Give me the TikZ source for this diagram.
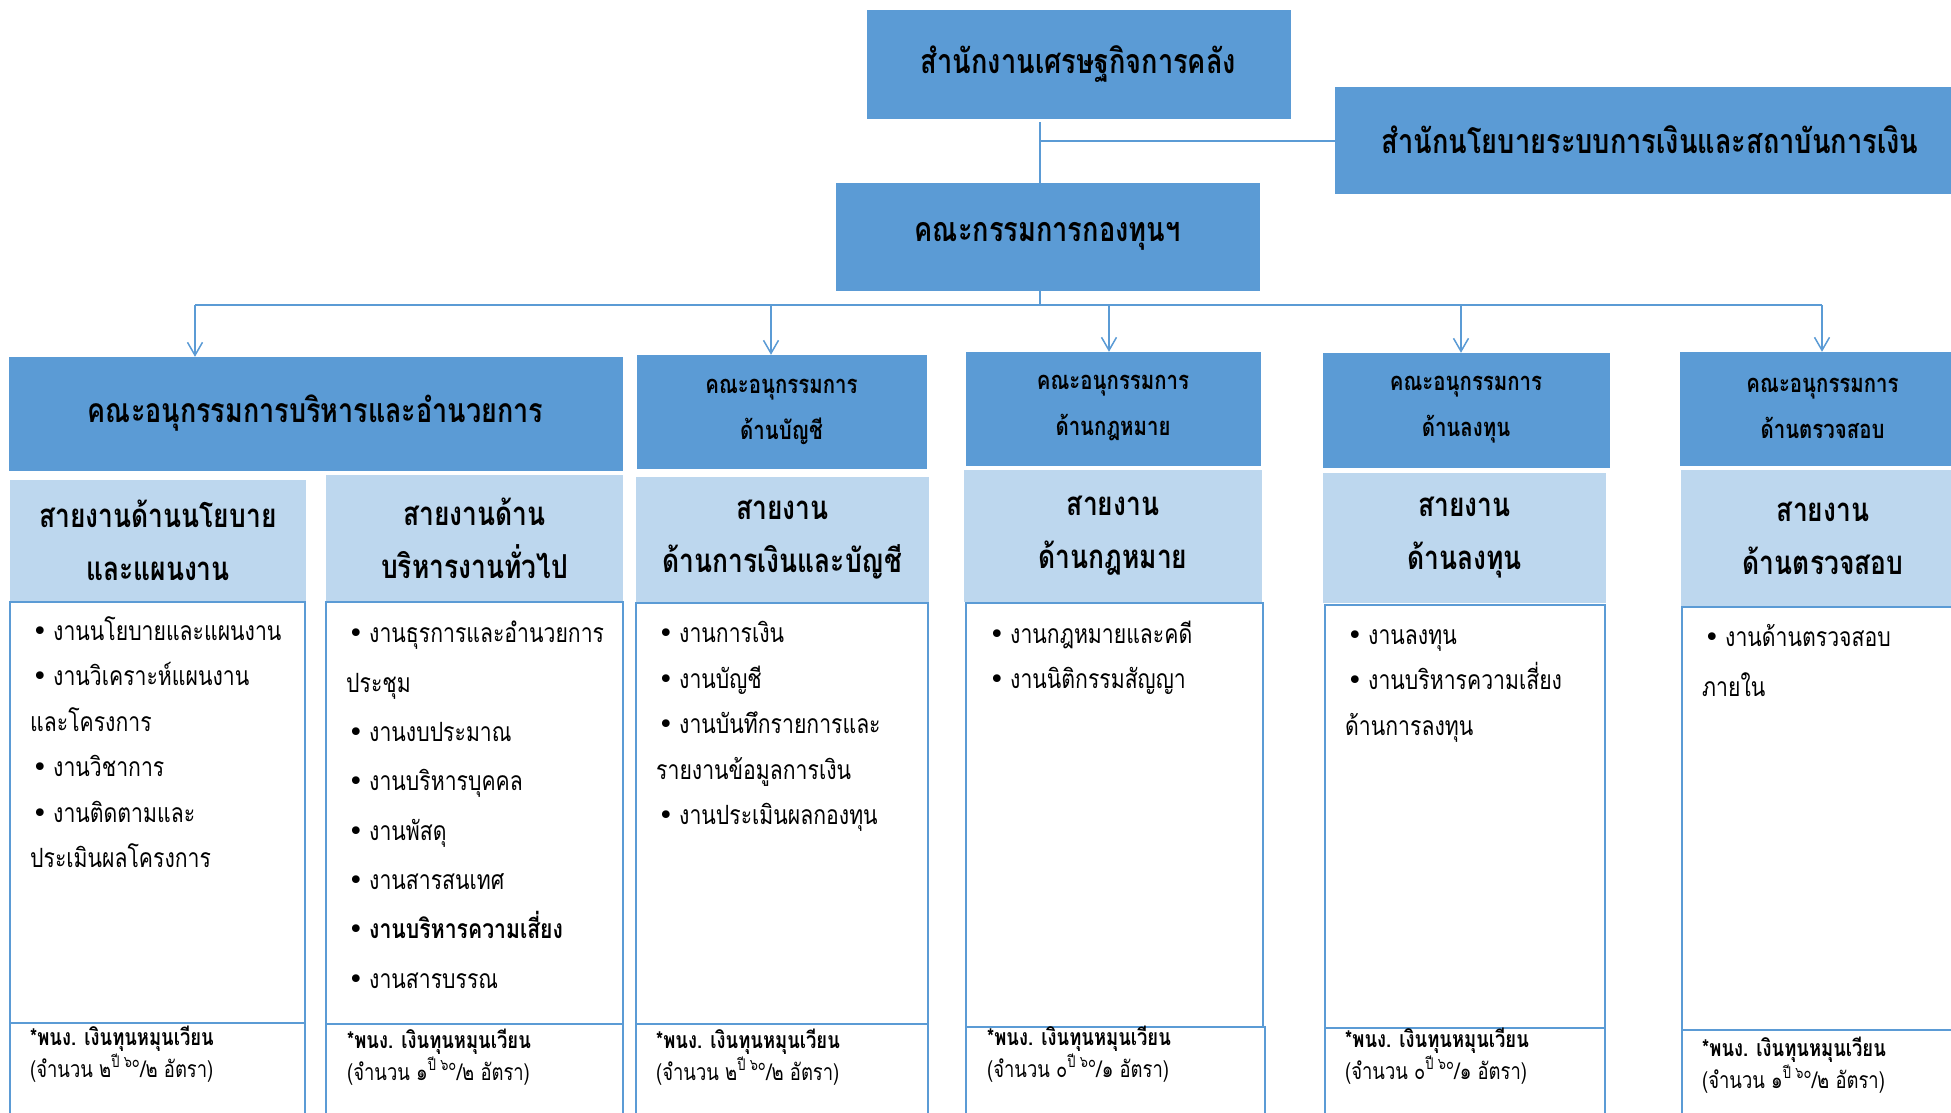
\documentclass[tikz,border=0pt]{standalone}
\usepackage{fontspec}
\setmainfont[Script=Thai,FakeStretch=0.8]{Loma}
\newfontfamily\bulletfont{DejaVu Sans}
\usetikzlibrary{arrows.meta}
\definecolor{boxblue}{HTML}{5B9BD5}
\definecolor{paleblue}{HTML}{BDD7EE}

% bullet of the task lists
\newcommand{\titem}{\makebox[23pt][l]{\hspace{2pt}{\bulletfont •}}}
% note at the foot of each column
\newcommand{\staffnote}[2]{\textbf{*พนง. เงินทุนหมุนเวียน}\\(จำนวน #1\textsuperscript{ปี ๖๐}/#2 อัตรา)}

\begin{document}
\begin{tikzpicture}[x=1pt, y=-1pt,
    topbox/.style={rectangle, fill=boxblue, draw=boxblue, align=center, inner sep=0pt, font=\fontsize{34}{40}\selectfont\bfseries},
    subbox/.style={rectangle, fill=boxblue, draw=boxblue, align=center, inner sep=0pt, font=\fontsize{25.5}{46}\selectfont\bfseries},
    linebox/.style={rectangle, fill=paleblue, align=center, inner sep=0pt, font=\fontsize{33}{53}\selectfont\bfseries},
    taskbox/.style={rectangle, draw=boxblue, line width=2.5pt, fill=white, inner sep=0pt},
    tasktext/.style={anchor=base west, align=left, inner sep=0pt, font=\fontsize{26.5}{45.5}\selectfont},
    stafftext/.style={anchor=base west, align=left, inner sep=0pt, font=\fontsize{23}{32}\selectfont},
    wire/.style={draw=boxblue, line width=1.5pt},
    feed/.style={wire, -{Straight Barb[length=13pt,width=15pt]}}]
    \useasboundingbox (0,0) rectangle (1951,1112);
    \clip (0,0) rectangle (1951,1112);

    % Ministry and board
    \node[topbox, minimum width=423pt, minimum height=108pt] (FISCAL) at (1078.5,64) {สำนักงานเศรษฐกิจการคลัง};
    \node[topbox, minimum width=630pt, minimum height=106pt] (POLICY) at (1650,140) {สำนักนโยบายระบบการเงินและสถาบันการเงิน};
    \node[topbox, minimum width=423pt, minimum height=107pt] (BOARD) at (1047.5,236.5) {คณะกรรมการกองทุนฯ};

    % Subcommittees
    \node[topbox, font=\fontsize{33.7}{40}\selectfont\bfseries, minimum width=613pt, minimum height=113pt] (SUBADMIN) at (315.5,413.5) {คณะอนุกรรมการบริหารและอำนวยการ};
    \node[subbox, minimum width=289pt, minimum height=113pt] (SUBACC) at (781.5,411.5) {คณะอนุกรรมการ\\ด้านบัญชี};
    \node[subbox, minimum width=294pt, minimum height=113pt] (SUBLAW) at (1113,408.5) {คณะอนุกรรมการ\\ด้านกฎหมาย};
    \node[subbox, minimum width=286pt, minimum height=114pt] (SUBINV) at (1466,410) {คณะอนุกรรมการ\\ด้านลงทุน};
    \node[subbox, minimum width=285pt, minimum height=113pt] (SUBAUDIT) at (1822.5,408.5) {คณะอนุกรรมการ\\ด้านตรวจสอบ};

    % Lines of work
    \node[linebox, minimum width=296pt, minimum height=121pt] (LINEPLAN) at (158,540.5) {สายงานด้านนโยบาย\\และแผนงาน};
    \node[linebox, minimum width=297pt, minimum height=126pt] (LINEGEN) at (474.5,538) {สายงานด้าน\\บริหารงานทั่วไป};
    \node[linebox, minimum width=293pt, minimum height=125pt] (LINEACC) at (782.5,539.5) {สายงาน\\ด้านการเงินและบัญชี};
    \node[linebox, minimum width=298pt, minimum height=132pt] (LINELAW) at (1113,536) {สายงาน\\ด้านกฎหมาย};
    \node[linebox, minimum width=283pt, minimum height=130pt] (LINEINV) at (1464.5,538) {สายงาน\\ด้านลงทุน};
    \node[linebox, minimum width=284pt, minimum height=136pt] (LINEAUDIT) at (1823,538) {สายงาน\\ด้านตรวจสอบ};

    % Task lists (placed by the baseline of their last line)
    \node[taskbox, minimum width=295pt, minimum height=421pt] (TASKPLAN) at (157.5,812.5) {};
    \node[taskbox, minimum width=297pt, minimum height=422pt] (TASKGEN) at (474.5,813) {};
    \node[taskbox, minimum width=292pt, minimum height=421pt] (TASKACC) at (782,813.5) {};
    \node[taskbox, minimum width=297pt, minimum height=424pt] (TASKLAW) at (1114.5,815) {};
    \node[taskbox, minimum width=280pt, minimum height=423pt] (TASKINV) at (1465,816.5) {};
    \node[taskbox, minimum width=283pt, minimum height=423pt] (TASKAUDIT) at (1823.5,818.5) {};

    \node[tasktext] (LISTPLAN) at (30,867.5) {\titem งานนโยบายและแผนงาน\\ \titem งานวิเคราะห์แผนงาน\\ และโครงการ\\ \titem งานวิชาการ\\ \titem งานติดตามและ\\ ประเมินผลโครงการ};
    \node[tasktext, font=\fontsize{26.5}{49.3}\selectfont] (LISTGEN) at (346,988) {\titem งานธุรการและอำนวยการ\\ ประชุม\\ \titem งานงบประมาณ\\ \titem งานบริหารบุคคล\\ \titem งานพัสดุ\\ \titem งานสารสนเทศ\\ \titem \textbf{งานบริหารความเสี่ยง}\\ \titem งานสารบรรณ};
    \node[tasktext] (LISTACC) at (656,824.5) {\titem งานการเงิน\\ \titem งานบัญชี\\ \titem งานบันทึกรายการและ\\ รายงานข้อมูลการเงิน\\ \titem งานประเมินผลกองทุน};
    \node[tasktext] (LISTLAW) at (987,688.5) {\titem งานกฎหมายและคดี\\ \titem งานนิติกรรมสัญญา};
    \node[tasktext] (LISTINV) at (1345,735) {\titem งานลงทุน\\ \titem งานบริหารความเสี่ยง\\ ด้านการลงทุน};
    \node[tasktext, font=\fontsize{26.5}{50}\selectfont] (LISTAUDIT) at (1702,696) {\titem งานด้านตรวจสอบ\\ ภายใน};

    % Staff notes
    \node[taskbox, minimum width=295pt, minimum height=117pt] (STAFFPLAN) at (157.5,1081.5) {};
    \node[taskbox, minimum width=297pt, minimum height=116pt] (STAFFGEN) at (474.5,1082) {};
    \node[taskbox, minimum width=292pt, minimum height=116pt] (STAFFACC) at (782,1082) {};
    \node[taskbox, minimum width=299pt, minimum height=113pt] (STAFFLAW) at (1115.5,1083.5) {};
    \node[taskbox, minimum width=280pt, minimum height=112pt] (STAFFINV) at (1465,1084) {};
    \node[taskbox, minimum width=283pt, minimum height=110pt] (STAFFAUDIT) at (1823.5,1085) {};

    \node[stafftext] (NOTEPLAN) at (30,1077) {\staffnote{๒}{๒}};
    \node[stafftext] (NOTEGEN) at (347,1080) {\staffnote{๑}{๒}};
    \node[stafftext] (NOTEACC) at (656,1080) {\staffnote{๒}{๒}};
    \node[stafftext] (NOTELAW) at (987,1077) {\staffnote{๐}{๑}};
    \node[stafftext] (NOTEINV) at (1345,1079) {\staffnote{๐}{๑}};
    \node[stafftext] (NOTEAUDIT) at (1702,1088) {\staffnote{๑}{๒}};

    % Connectors
    \coordinate (STEM) at (1040,122);
    \coordinate (JOIN) at (1040,141);
    \coordinate (BUS) at (1040,305);
    \coordinate (HUB1) at (195,305);
    \coordinate (HUB2) at (771,305);
    \coordinate (HUB3) at (1109,305);
    \coordinate (HUB4) at (1461,305);
    \coordinate (HUB5) at (1822,305);
    \draw[wire] (STEM) -- (STEM |- BOARD.north);
    \draw[wire] (JOIN) -- (JOIN -| POLICY.west);
    \draw[wire] (BOARD.south -| BUS) -- (BUS);
    \draw[wire] (HUB1) -- (HUB5);
    \draw[feed] (HUB1) -- (HUB1 |- SUBADMIN.north);
    \draw[feed] (HUB2) -- (HUB2 |- SUBACC.north);
    \draw[feed] (HUB3) -- (HUB3 |- SUBLAW.north);
    \draw[feed] (HUB4) -- (HUB4 |- SUBINV.north);
    \draw[feed] (HUB5) -- (HUB5 |- SUBAUDIT.north);
\end{tikzpicture}
\end{document}
